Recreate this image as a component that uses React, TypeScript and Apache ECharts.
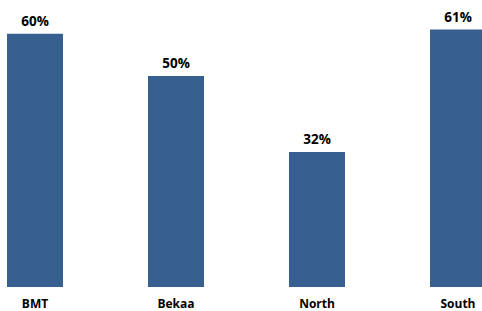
import React, { useEffect, useRef } from "react";
import * as echarts from "echarts";

const categories = ["BMT", "Bekaa", "North", "South"];
const values = [60, 50, 32, 61];

export default function App() {
  const ref = useRef<HTMLDivElement>(null);
  useEffect(() => {
    const chart = echarts.init(ref.current!, null, { renderer: "svg" });
    chart.setOption({
      animation: false,
      grid: {
        left: -35.5,
        top: 0,
        width: 564,
        height: 287,
        outerBoundsMode: "none",
        containLabel: false,
      },
      xAxis: {
        type: "category",
        data: categories,
        axisLine: { show: false },
        axisTick: { show: false },
        axisLabel: {
          margin: 10,
          color: "#000",
          fontWeight: "bold",
          fontSize: 12,
          fontFamily: "Open Sans",
        },
      },
      yAxis: {
        type: "value",
        min: 0,
        max: 68,
        show: false,
        splitLine: { show: false },
      },
      series: [
        {
          type: "bar",
          data: values,
          barWidth: 56,
          itemStyle: { color: "#375F8F" },
          label: {
            show: true,
            position: "top",
            distance: 6,
            formatter: "{c}%",
            color: "#000",
            fontWeight: "bold",
            fontSize: 13.5,
            fontFamily: "Open Sans",
          },
        },
      ],
    });
    return () => chart.dispose();
  }, []);
  return <div ref={ref} style={{ width: 482, height: 311, position: "absolute", left: 0, top: 0 }} />;
}
